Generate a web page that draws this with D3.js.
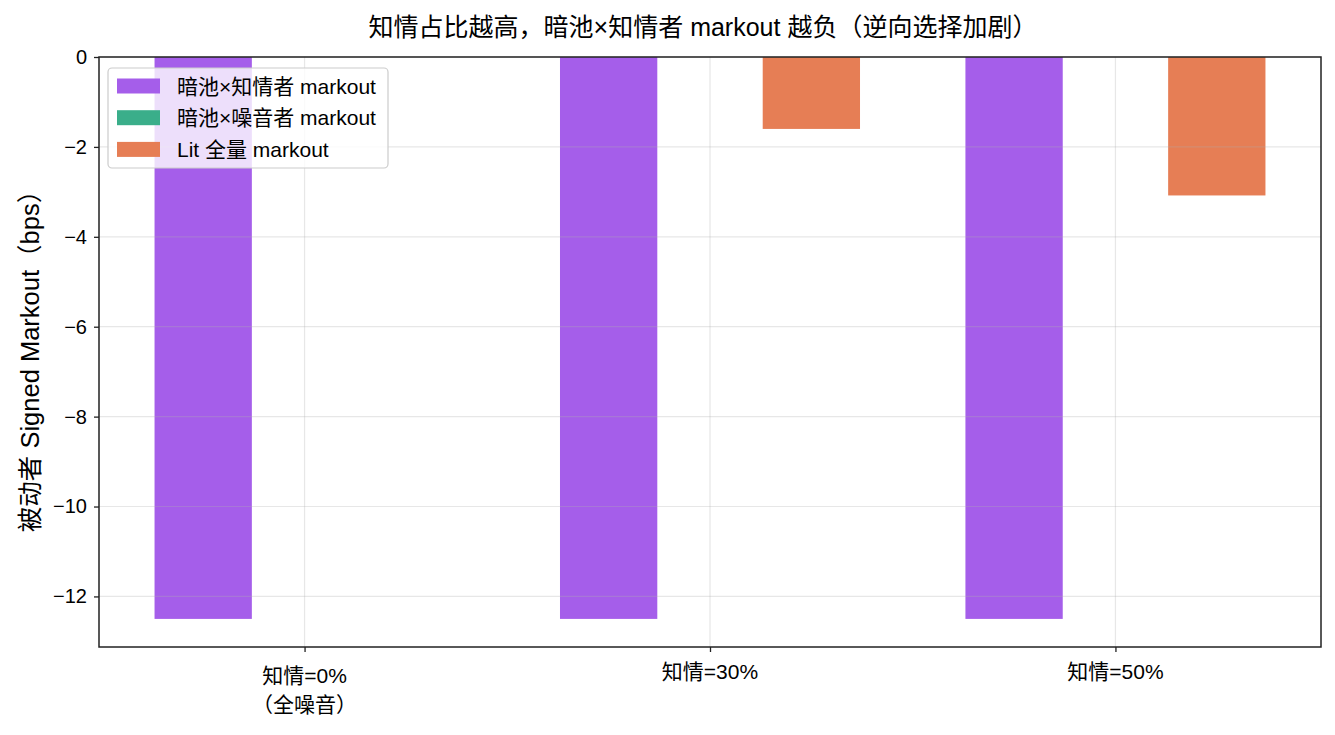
<html>

<head>
    <meta charset="utf-8">
    <script src="https://d3js.org/d3.v7.min.js" charset="utf-8"></script>
    <style>
        body { margin: 0; background: #fff; }
        text { font-family: "Liberation Sans", "Noto Sans CJK SC", sans-serif; fill: #000; }
    </style>
</head>

<body>
    <script type="text/javascript">
        // Data
        var categories = ["知情=0%\n（全噪音）", "知情=30%", "知情=50%"];
        var seriesNames = ["暗池×知情者 markout", "暗池×噪音者 markout", "Lit 全量 markout"];
        var informedDark = [-12.5, -12.5, -12.5];
        var noiseDark = [0, 0, 0];
        var litAll = [0, -1.6, -3.08];
        var yTicks = [0, -2, -4, -6, -8, -10, -12];

        var colors = ["#a55eea", "#3aae8a", "#e67e55"];
        var seriesValues = [informedDark, noiseDark, litAll];

        var width = 1335;
        var height = 735;

        var margin = {
            left: 99,
            right: 14,
            top: 57,
            bottom: 88
        }

        var barWidth = 0.24;
        var offsets = [-0.25, 0, 0.25];

        const svg = d3.select("body").append("svg")
            .attr("width", width)
            .attr("height", height);

        var xScale = d3.scaleLinear()
            .domain([-0.507, 2.507])
            .range([margin.left, width - margin.right]);

        var yScale = d3.scaleLinear()
            .domain([-13.125, 0])
            .range([height - margin.bottom, margin.top]);

        var minus = d => d < 0 ? "\u2212" + Math.abs(d) : String(d);

        // Bars
        var groups = svg.append("g")
            .attr("class", "bars")
            .selectAll("g")
            .data(seriesValues)
            .join("g")
                .attr("fill", (d, i) => colors[i]);

        groups.each(function(vals, si) {
            d3.select(this).selectAll("rect")
                .data(vals)
                .join("rect")
                    .attr("x", (d, i) => xScale(i + offsets[si] - barWidth / 2))
                    .attr("width", xScale(barWidth) - xScale(0))
                    .attr("y", d => yScale(Math.max(0, d)))
                    .attr("height", d => Math.abs(yScale(d) - yScale(0)));
        });

        // Grid (drawn above bars, like the reference)
        var grid = svg.append("g").attr("class", "grid")
            .attr("stroke", "#b0b0b0")
            .attr("stroke-opacity", 0.3)
            .attr("stroke-width", 1.2);

        grid.selectAll("line.gy")
            .data(yTicks)
            .join("line")
                .attr("class", "gy")
                .attr("x1", margin.left)
                .attr("x2", width - margin.right)
                .attr("y1", d => yScale(d))
                .attr("y2", d => yScale(d));

        grid.selectAll("line.gx")
            .data(categories.map((c, i) => i))
            .join("line")
                .attr("class", "gx")
                .attr("x1", d => xScale(d))
                .attr("x2", d => xScale(d))
                .attr("y1", margin.top)
                .attr("y2", height - margin.bottom);

        // Axes
        var xAxis = d3.axisBottom(xScale)
            .tickValues([0, 1, 2])
            .tickFormat("")
            .tickSize(5)
            .tickSizeOuter(0);

        var yAxis = d3.axisLeft(yScale)
            .tickValues(yTicks)
            .tickFormat(minus)
            .tickSize(5)
            .tickPadding(7)
            .tickSizeOuter(0);

        var gx = svg.append("g")
            .attr("class", "x-axis")
            .attr("transform", `translate(0, ${height - margin.bottom})`)
            .call(xAxis);

        var gy = svg.append("g")
            .attr("class", "y-axis")
            .attr("transform", `translate(${margin.left}, 0)`)
            .call(yAxis);

        gx.select(".domain").remove();
        gy.select(".domain").remove();
        svg.selectAll(".tick line").attr("stroke", "#222").attr("stroke-width", 1.3);
        gy.selectAll(".tick text").style("font-size", "20px").attr("fill", "#000");

        // X category labels (first one has two lines)
        var xl = svg.append("g").attr("class", "x-labels");
        categories.forEach((c, i) => {
            var lines = c.split("\n");
            var t = xl.append("text")
                .attr("x", xScale(i))
                .attr("y", lines.length > 1 ? 683 : 679)
                .attr("text-anchor", "middle")
                .style("font-size", "21px");
            lines.forEach((ln, k) => {
                t.append("tspan")
                    .attr("x", xScale(i))
                    .attr("dy", k === 0 ? 0 : 29)
                    .text(ln);
            });
        });

        // Frame
        svg.append("rect")
            .attr("x", margin.left)
            .attr("y", margin.top)
            .attr("width", width - margin.left - margin.right)
            .attr("height", height - margin.top - margin.bottom)
            .attr("fill", "none")
            .attr("stroke", "#222")
            .attr("stroke-width", 1.5);

        // Legend
        var legend = svg.append("g").attr("class", "legend");
        legend.append("rect")
            .attr("x", 108)
            .attr("y", 68)
            .attr("width", 280)
            .attr("height", 100)
            .attr("rx", 4)
            .attr("fill", "#fff")
            .attr("fill-opacity", 0.8)
            .attr("stroke", "#cccccc")
            .attr("stroke-width", 1.2);

        var rows = legend.selectAll("g.row")
            .data(seriesNames)
            .join("g")
                .attr("class", "row")
                .attr("transform", (d, i) => `translate(117, ${86 + i * 31.7})`);

        rows.append("rect")
            .attr("x", 0)
            .attr("y", -7.5)
            .attr("width", 43)
            .attr("height", 15)
            .attr("fill", (d, i) => colors[i]);

        rows.append("text")
            .attr("x", 60)
            .attr("y", 0)
            .attr("dominant-baseline", "central")
            .style("font-size", "21px")
            .text(d => d);

        // Title and y label
        svg.append("text")
            .attr("x", (margin.left + width - margin.right) / 2 - 7)
            .attr("y", 36)
            .attr("text-anchor", "middle")
            .style("font-size", "25px")
            .text("知情占比越高，暗池×知情者 markout 越负（逆向选择加剧）");

        svg.append("text")
            .attr("transform", `translate(30, ${(margin.top + height - margin.bottom) / 2 + 3}) rotate(-90)`)
            .attr("text-anchor", "middle")
            .attr("dominant-baseline", "central")
            .style("font-size", "25.5px")
            .text("被动者 Signed Markout（bps）");
    </script>
</body>

</html>
